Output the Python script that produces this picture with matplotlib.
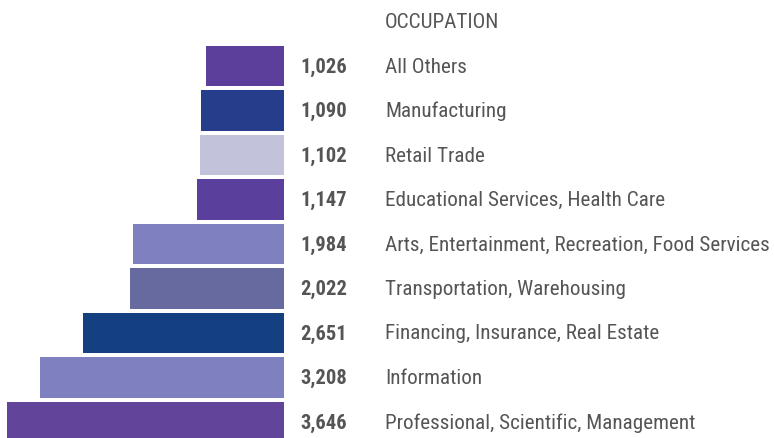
import matplotlib
matplotlib.use("Agg")
import matplotlib.pyplot as plt
from matplotlib import font_manager

categories = [
    "All Others",
    "Manufacturing",
    "Retail Trade",
    "Educational Services, Health Care",
    "Arts, Entertainment, Recreation, Food Services",
    "Transportation, Warehousing",
    "Financing, Insurance, Real Estate",
    "Information",
    "Professional, Scientific, Management",
]
values = [1026, 1090, 1102, 1147, 1984, 2022, 2651, 3208, 3646]
bar_colors = ["#5B3F9B", "#263D8B", "#C2C2DA", "#5A3F9C", "#7F80BF",
              "#676A9E", "#143F80", "#7F80BF", "#62449A"]
header = "OCCUPATION"

names = {f.name for f in font_manager.fontManager.ttflist}
family = [f for f in ["Roboto Condensed", "Liberation Sans Narrow", "DejaVu Sans"] if f in names]
plt.rcParams["font.family"] = family

text_color = "#555555"

fig = plt.figure(figsize=(7.74, 4.39), dpi=100)
ax = fig.add_axes([0, 0, 1, 1])

rows = list(range(len(categories)))
ax.barh(rows, [-v for v in values], height=0.9, color=bar_colors, align="center")

# pixel-matched scale: zero at x=284px, 3646 spans 277px
scale = 277 / 3646
ax.set_xlim(-284 / scale, (774 - 284) / scale)
ax.set_ylim(8.36, -1.506)

trans = ax.get_yaxis_transform()
for i, (cat, v) in enumerate(zip(categories, values)):
    ax.text(300 / 774, i, f"{v:,}", transform=trans, ha="left", va="center",
            fontsize=14.8, fontweight="bold", color=text_color)
    ax.text(385 / 774, i, cat, transform=trans, ha="left", va="center",
            fontsize=15.2, color=text_color)

ax.text(385 / 774, -1.0, header, transform=trans, ha="left", va="center",
        fontsize=15.2, color=text_color)

ax.axis("off")
fig.savefig("out.png", dpi=100)
